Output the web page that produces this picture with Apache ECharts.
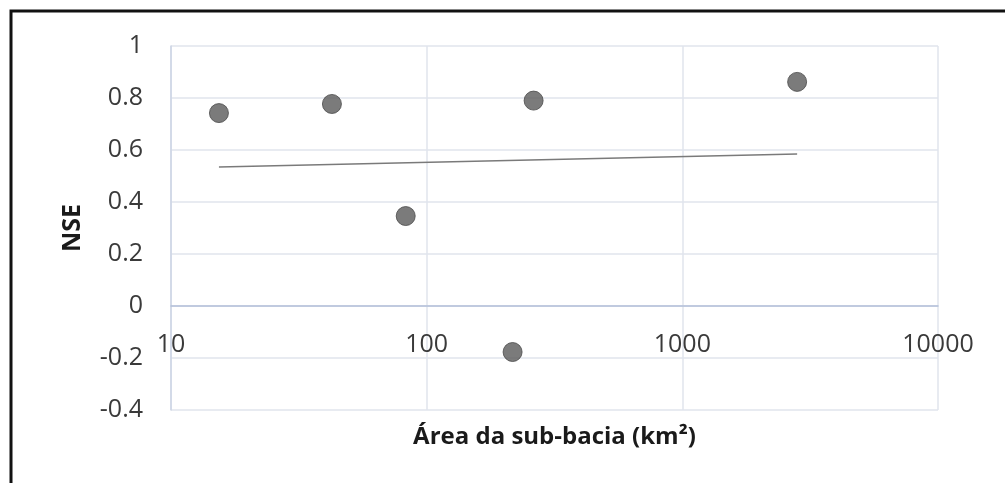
<!DOCTYPE html>
<html>
<head>
<meta charset="utf-8">
<title>NSE vs área da sub-bacia</title>
<script src="https://cdn.jsdelivr.net/npm/echarts@6/dist/echarts.min.js"></script>
<style>
  html, body { margin: 0; padding: 0; background: #fff; }
  #chart { width: 1005px; height: 483px; }
</style>
</head>
<body>
<div id="chart"></div>
<script>
// sub-basin area (km²) and NSE values
var areas = [15.4, 42.6, 82.8, 216.8, 262, 2812];
var nse = [0.742, 0.777, 0.346, -0.177, 0.79, 0.862];
// logarithmic trend line end points
var trendX = [15.4, 2812];
var trendY = [0.535, 0.585];
var xTicks = [10, 100, 1000, 10000];

var points = areas.map(function (a, i) { return [a, nse[i]]; });
var trend = trendX.map(function (a, i) { return [a, trendY[i]]; });

var chart = echarts.init(document.getElementById('chart'));
var font = 'Open Sans';

chart.setOption({
  animation: false,
  backgroundColor: '#fff',
  grid: { left: 171, right: 67, top: 46, bottom: 73, outerBoundsMode: 'none', containLabel: false },
  xAxis: {
    type: 'log',
    logBase: 10,
    min: xTicks[0],
    max: xTicks[xTicks.length - 1],
    // axis sits on the zero line: 0.4 of 1.4 of the plot height above the bottom
    offset: -104,
    name: 'Área da sub-bacia (km²)',
    nameLocation: 'middle',
    nameGap: 119,
    nameTextStyle: { fontFamily: font, fontWeight: 'bold', fontSize: 24, color: '#1a1a1a' },
    axisLine: { onZero: false, lineStyle: { color: '#b3c0d9', width: 1.5 } },
    axisTick: { show: false },
    axisLabel: {
      margin: 26,
      fontFamily: font, fontSize: 25, color: '#3a3a3a',
      formatter: function (v) { return String(v); }
    },
    splitLine: { show: true, lineStyle: { color: '#e1e5ec', width: 1.5 } }
  },
  yAxis: {
    type: 'value',
    min: -0.4,
    max: 1,
    interval: 0.2,
    name: 'NSE',
    nameLocation: 'middle',
    nameGap: 86,
    nameTextStyle: { fontFamily: font, fontWeight: 'bold', fontSize: 25, color: '#1a1a1a' },
    axisLine: { show: true, onZero: false, lineStyle: { color: '#ccd5e4', width: 1.5 } },
    axisTick: { show: false },
    axisLabel: {
      margin: 28,
      fontFamily: font, fontSize: 25, color: '#3a3a3a',
      formatter: function (v) { return String(+v.toFixed(1)); }
    },
    splitLine: { show: true, lineStyle: { color: '#e1e5ec', width: 1.5 } }
  },
  series: [
    {
      type: 'line',
      data: trend,
      showSymbol: false,
      lineStyle: { color: '#7a7a7a', width: 1.5 },
      z: 2
    },
    {
      type: 'scatter',
      data: points,
      symbolSize: 19,
      itemStyle: { color: '#5a5a5a', borderColor: '#4a4a4a', borderWidth: 1 },
      z: 3
    }
  ],
  graphic: [{
    type: 'polyline',
    shape: { points: [[11, 483], [11, 11], [1005, 11]] },
    style: { stroke: '#111', lineWidth: 3, fill: null },
    silent: true
  }]
});
</script>
</body>
</html>
